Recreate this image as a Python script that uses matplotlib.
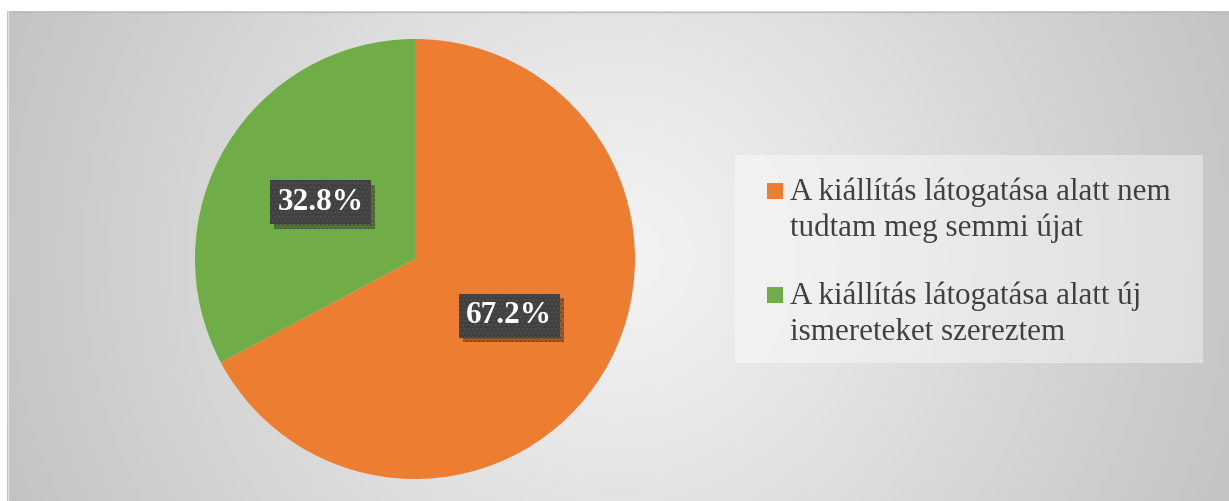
import numpy as np
import matplotlib
matplotlib.use("Agg")
import matplotlib.pyplot as plt
import matplotlib.patheffects as pe
from matplotlib.patches import Rectangle

# data
labels = [
    "A kiállítás látogatása alatt nem\ntudtam meg semmi újat",
    "A kiállítás látogatása alatt új\nismereteket szereztem",
]
shares = [67.2, 32.8]
colors = ["#ED7D31", "#70AD47"]

plt.rcParams["hatch.linewidth"] = 1.2

W, H = 1229, 501
fig = plt.figure(figsize=(W / 100, H / 100), dpi=100)
fig.patch.set_facecolor("white")

# background panel with radial gradient
bg = fig.add_axes([0, 0, 1, 1], zorder=0)
bg.set_xlim(0, W)
bg.set_ylim(H, 0)
bg.axis("off")
x0, y0 = 7, 11
xx, yy = np.meshgrid(np.arange(x0, W), np.arange(y0, H))
cx, cy = (x0 + W) / 2, (y0 + H) / 2
d = np.hypot(xx - cx, yy - cy) / np.hypot(W - cx, H - cy)
grey = 0.955 - (0.955 - 0.765) * np.clip(d, 0, 1) ** 1.1
bg.imshow(np.dstack([grey] * 3), extent=(x0, W, H, y0), aspect="auto",
          interpolation="bilinear")
bg.plot([x0, W], [y0 + 0.5, y0 + 0.5], color="#bdbdbd", lw=1)
bg.plot([x0 + 0.5, x0 + 0.5], [y0, H], color="#e0e0e0", lw=1)

# legend box drawn by hand to keep markers on the first line
bg.add_patch(Rectangle((735, 155), 468, 208, facecolor="white", alpha=0.4,
                       edgecolor="none"))
first_baselines = [200, 304]
for lab, col, base in zip(labels, colors, first_baselines):
    bg.add_patch(Rectangle((767, base - 17), 16, 16, facecolor=col,
                           edgecolor="none"))
    for i, line in enumerate(lab.split("\n")):
        bg.text(790, base + i * 36, line, fontsize=22.3, color="#404040",
                family="Liberation Serif", va="baseline", ha="left")

# pie
cxp, cyp, r = 415, 259, 220
ax = fig.add_axes([(cxp - r) / W, (H - cyp - r) / H, 2 * r / W, 2 * r / H],
                  zorder=1)
wedges, texts, autotexts = ax.pie(
    shares, colors=colors, startangle=90, counterclock=False,
    autopct="%1.1f%%", pctdistance=0.5, radius=1,
    wedgeprops=dict(linewidth=0),
)
ax.set_xlim(-1, 1)
ax.set_ylim(-1, 1)
ax.set_aspect("equal")

for t in autotexts:
    t.set_fontsize(22.5)
    t.set_color("white")
    t.set_fontweight("bold")
    t.set_family("Liberation Serif")
    t.set_bbox(dict(boxstyle="square,pad=0.24", facecolor="#404040",
                    edgecolor="#4e4e4e", linewidth=0, hatch="...."))
    t.get_bbox_patch().set_path_effects([
        pe.SimplePatchShadow(offset=(3, -3), shadow_rgbFace="black", alpha=0.3),
        pe.Normal(),
    ])

fig.savefig("out.png", dpi=100)
